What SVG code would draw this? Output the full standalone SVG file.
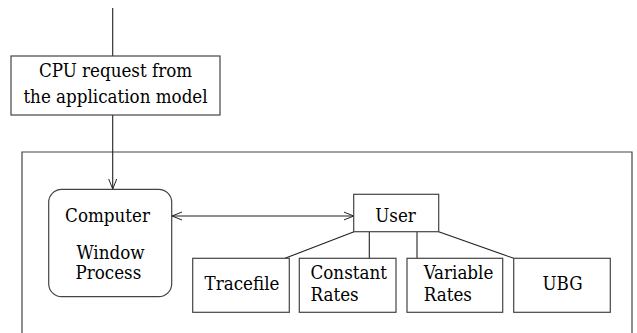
<svg xmlns="http://www.w3.org/2000/svg" width="637" height="333" viewBox="0 0 637 333">
  <defs>
    <marker id="vee" viewBox="0 0 10 10" refX="10" refY="5" markerWidth="10" markerHeight="10" markerUnits="userSpaceOnUse" orient="auto-start-reverse">
      <path d="M0,1 L10,5 L0,9" fill="none" stroke="#222" stroke-width="1"/>
    </marker>
  </defs>
  <style>
    .box { fill: #fff; stroke: #444; stroke-width: 1.2; }
    .frame { fill: none; stroke: #444; stroke-width: 1.2; }
    .line { fill: none; stroke: #222; stroke-width: 1.1; }
    text { font-family: "DejaVu Serif Condensed", "DejaVu Serif", serif; font-stretch: condensed; font-size: 18.6px; fill: #000; }
    .c { text-anchor: middle; }
  </style>

  <!-- enclosing frame (open at the bottom) -->
  <path class="frame" d="M22,333 V152 H632 V333"/>

  <g id="connectors">
    <line class="line" x1="112.7" y1="8" x2="112.7" y2="56"/>
    <line class="line" x1="112.7" y1="115" x2="112.7" y2="189" marker-end="url(#vee)"/>
    <line class="line" x1="172" y1="216" x2="353.7" y2="216" marker-start="url(#vee)" marker-end="url(#vee)"/>
    <line class="line" x1="354" y1="231.7" x2="285" y2="258.3"/>
    <line class="line" x1="369.3" y1="231.7" x2="369.3" y2="258.3"/>
    <line class="line" x1="417" y1="231.7" x2="417" y2="258.3"/>
    <line class="line" x1="438.7" y1="231.7" x2="513.7" y2="258.3"/>
  </g>

  <g id="cpu-request">
    <rect class="box" x="11" y="56" width="209" height="59"/>
    <text class="c" x="115.5" y="77">CPU request from</text>
    <text class="c" x="115.5" y="103">the application model</text>
  </g>

  <g id="computer">
    <rect class="box" x="48.7" y="189.3" width="123" height="107.4" rx="13" ry="13"/>
    <text class="c" x="107.5" y="221.7">Computer</text>
    <text x="76.5" y="259">Window</text>
    <text x="75.5" y="279.3">Process</text>
  </g>

  <g id="user">
    <rect class="box" x="353.7" y="194.3" width="85" height="37.4"/>
    <text class="c" x="395.5" y="221.7">User</text>
  </g>

  <g id="tracefile">
    <rect class="box" x="192.7" y="258.3" width="96.6" height="54"/>
    <text class="c" x="242" y="290">Tracefile</text>
  </g>

  <g id="constant-rates">
    <rect class="box" x="299.3" y="258.3" width="96.7" height="54"/>
    <text x="310.5" y="279.3">Constant</text>
    <text x="310.5" y="300.7">Rates</text>
  </g>

  <g id="variable-rates">
    <rect class="box" x="407" y="258.3" width="95.7" height="54"/>
    <text x="423.7" y="279.3">Variable</text>
    <text x="423.7" y="300.7">Rates</text>
  </g>

  <g id="ubg">
    <rect class="box" x="513.7" y="258.3" width="96.6" height="54"/>
    <text class="c" x="562.5" y="290">UBG</text>
  </g>
</svg>
